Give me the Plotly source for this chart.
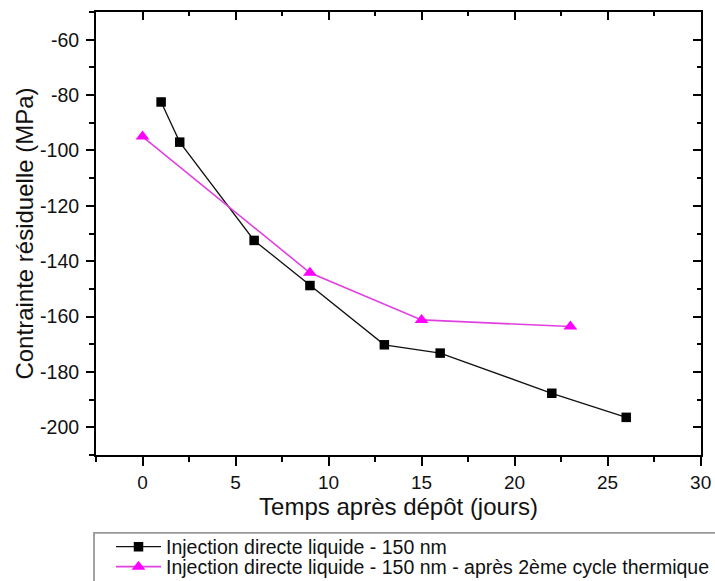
import plotly.graph_objects as go

# Data
days_black = [1, 2, 6, 9, 13, 16, 22, 26]
stress_black = [-82.5, -97, -132.5, -148.8, -170.2, -173.2, -187.7, -196.4]
days_magenta = [0, 9, 15, 23]
stress_magenta = [-95, -144.2, -161.2, -163.6]

name_black = "Injection directe liquide - 150 nm"
name_magenta = "Injection directe liquide - 150 nm - après 2ème cycle thermique"
x_title = "Temps après dépôt (jours)"
y_title = "Contrainte résiduelle (MPa)"

x_tick_vals = [0, 5, 10, 15, 20, 25, 30]
x_tick_text = ["0", "5", "10", "15", "20", "25", "30"]
y_tick_vals = [-60, -80, -100, -120, -140, -160, -180, -200]
y_tick_text = ["-60", "-80", "-100", "-120", "-140", "-160", "-180", "-200"]

x_range = [-2.5, 30.02]
y_range = [-210, -50]

FONT = "Liberation Sans, Arial, sans-serif"

fig = go.Figure()
fig.add_trace(go.Scatter(
    x=days_black, y=stress_black, mode="lines+markers", name=name_black,
    line=dict(color="#111111", width=1.3),
    marker=dict(symbol="square", size=9.5, color="#000000"),
    legend="legend",
))
fig.add_trace(go.Scatter(
    x=days_magenta, y=stress_magenta, mode="lines+markers", name=name_magenta,
    line=dict(color="#e040e0", width=1.6),
    marker=dict(symbol="triangle-up", size=12, color="#ff00ff"),
    legend="legend2",
))
# invisible trace to anchor the mirrored top/right axes
fig.add_trace(go.Scatter(x=[x_range[0]], y=[y_range[0]], xaxis="x2", yaxis="y2",
                         mode="markers", marker=dict(opacity=0), showlegend=False,
                         hoverinfo="skip"))

axis_common = dict(showgrid=False, zeroline=False, showline=True, linecolor="black",
                   linewidth=2, tickcolor="black", tickwidth=1.5)

legend_common = dict(xanchor="left", yanchor="middle", borderwidth=0,
                     bgcolor="rgba(0,0,0,0)", font=dict(size=19.5, color="#111111"),
                     itemwidth=45)

fig.update_layout(
    width=715, height=581,
    margin=dict(l=96, r=14, t=12, b=126, autoexpand=False),
    plot_bgcolor="white", paper_bgcolor="white",
    font=dict(family=FONT, color="#111111", size=19),
    xaxis=dict(range=x_range, tickmode="array", tickvals=x_tick_vals, ticktext=x_tick_text,
               ticks="outside", ticklen=9,
               minor=dict(ticks="outside", ticklen=5, dtick=2.5, tick0=0, tickcolor="black"),
               title=dict(text=x_title, font=dict(size=24), standoff=0),
               tickfont=dict(size=19), **axis_common),
    yaxis=dict(range=y_range, tickmode="array", tickvals=y_tick_vals, ticktext=y_tick_text,
               ticks="outside", ticklen=8,
               minor=dict(ticks="outside", ticklen=5, dtick=10, tick0=0, tickcolor="black"),
               title=dict(text=y_title, font=dict(size=24), standoff=0),
               tickfont=dict(size=19.5), ticklabelstandoff=3, **axis_common),
    xaxis2=dict(range=x_range, overlaying="x", side="top", anchor="y", tick0=0, dtick=5,
                ticks="inside", ticklen=8, showticklabels=False,
                minor=dict(ticks="inside", ticklen=4, dtick=2.5, tick0=0, tickcolor="black"),
                **axis_common),
    yaxis2=dict(range=y_range, overlaying="y", side="right", anchor="x", tick0=0, dtick=20,
                ticks="inside", ticklen=8, showticklabels=False,
                minor=dict(ticks="inside", ticklen=4, dtick=10, tick0=0, tickcolor="black"),
                **axis_common),
    legend=dict(x=0.0248, y=-0.2077, **legend_common),
    legend2=dict(x=0.0248, y=-0.2528, **legend_common),
    showlegend=True,
    shapes=[dict(type="rect", xref="paper", yref="paper", x0=-0.0033, x1=1.061,
                 y0=-0.176, y1=-0.345, line=dict(color="#999999", width=1.8),
                 fillcolor="rgba(0,0,0,0)", layer="above")],
)

fig.write_html(
    "out.html",
    config={"displayModeBar": False},
    post_script="document.body.style.margin='0';document.body.style.overflow='hidden';",
)
